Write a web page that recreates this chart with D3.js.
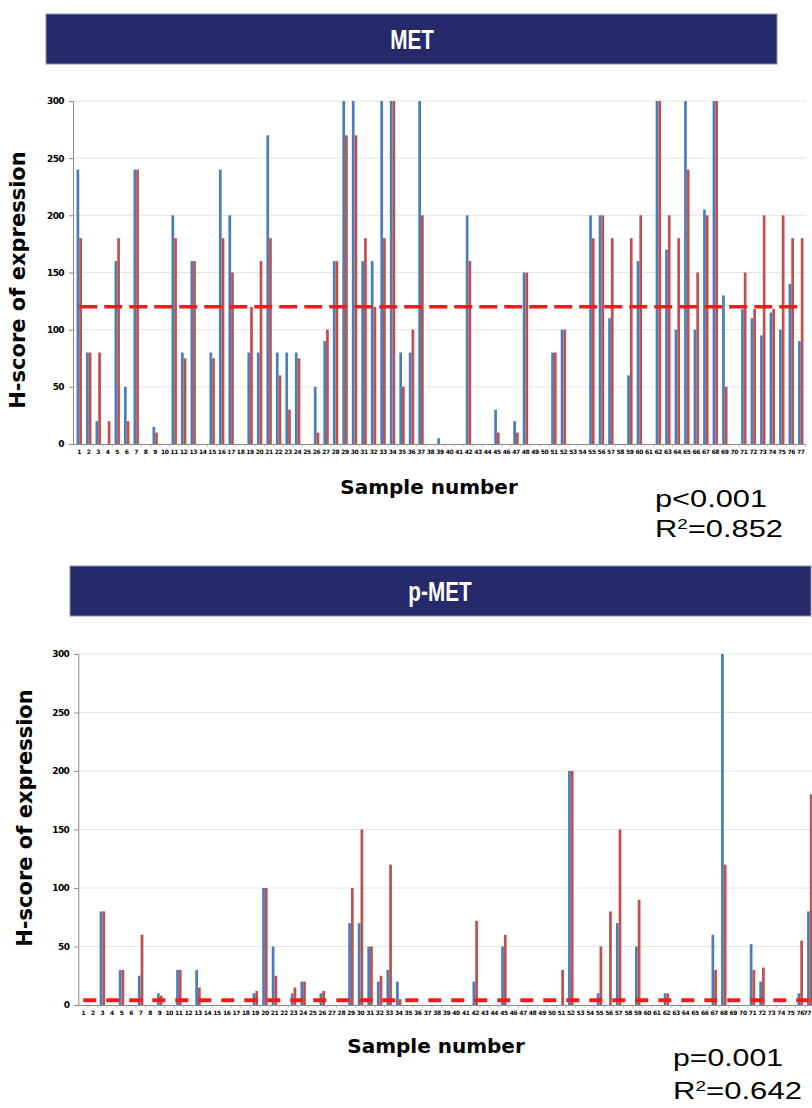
<!DOCTYPE html>
<html><head><meta charset="utf-8">
<script src="https://cdn.jsdelivr.net/npm/d3@7"></script>
<style>body{margin:0;background:#fff}svg{display:block}</style>
</head><body><svg id="c" width="812" height="1108"></svg>
<script>
// ---------- DATA ----------
const samples = ["1","2","3","4","5","6","7","8","9","10","11","12","13","14","15","16","17","18","19","20",
"21","22","23","24","25","26","27","28","29","30","31","32","33","34","35","36","37","38","39","40",
"41","42","43","44","45","46","47","48","49","50","51","52","53","54","55","56","57","58","59","60",
"61","62","63","64","65","66","67","68","69","70","71","72","73","74","75","76","77"];
const yTicks = [0, 50, 100, 150, 200, 250, 300];

// MET H-scores (blue and red series per sample)
const metBlue = [240,80,20,0,160,50,240,0,15,0, 200,80,160,0,80,240,200,0,80,80,
  270,80,80,80,0,50,90,160,300,300, 160,160,300,300,80,80,300,0,5,0,
  0,200,0,0,30,0,20,150,0,0, 80,100,0,0,200,200,110,0,60,160,
  0,300,170,100,300,100,205,300,130,0, 118,110,95,115,100,140,90];
const metRed = [180,80,80,20,180,20,240,0,10,0, 180,75,160,0,75,180,150,0,120,160,
  180,60,30,75,0,10,100,160,270,270, 180,120,180,300,50,100,200,0,0,0,
  0,160,0,0,10,0,10,150,0,0, 80,100,0,0,180,200,180,0,180,200,
  0,300,200,180,240,150,200,300,50,0, 150,118,200,118,200,180,180];
const metCutoff = 120;

// p-MET H-scores
const pmetBlue = [0,0,80,0,30,0,25,0,10,0, 30,0,30,0,0,0,0,0,10,100,
  50,0,10,20,0,10,0,0,70,70, 50,20,30,20,0,0,0,0,0,0,
  0,20,0,0,50,0,0,0,0,0, 0,200,0,0,10,0,70,0,50,0,
  0,10,0,0,0,0,60,300,0,0, 52,20,0,0,0,10,80];
const pmetRed = [0,0,80,0,30,0,60,0,8,0, 30,0,15,0,0,0,0,0,12,100,
  25,0,15,20,0,12,0,0,100,150, 50,25,120,5,0,0,0,0,0,0,
  0,72,0,0,60,0,0,0,0,0, 30,200,0,0,50,80,150,0,90,0,
  0,10,0,0,0,0,30,120,0,0, 30,32,0,0,0,55,180];
const pmetCutoff = 4;

const blueColor = "#4a7ebb", redColor = "#c0504d", lineColor = "#ee1c1c", navy = "#262a6a";

const svg = d3.select("#c");

function header(x0, x1, y0, y1, label, cx) {
  svg.append("rect").attr("x", x0).attr("y", y0).attr("width", x1 - x0).attr("height", y1 - y0)
    .attr("fill", navy).attr("stroke", "#8c8fb8").attr("stroke-width", 1);
  svg.append("text").attr("transform", `translate(${cx},${(y0 + y1) / 2 + 10}) scale(0.74,1)`)
    .attr("text-anchor", "middle").attr("fill", "#fff")
    .style("font", "bold 28px 'Liberation Sans', Arial, sans-serif").text(label);
}

function chart(o) {
  const g = svg.append("g");
  const x = d3.scaleBand().domain(samples).range(o.xr);
  const y = d3.scaleLinear().domain([0, 300]).range(o.yr);
  const sub = d3.scaleBand().domain(["b", "r"]).range([0, x.bandwidth()]).paddingOuter(0.75).paddingInner(0);

  // gridlines
  g.selectAll(".grid").data(yTicks.slice(1)).join("line")
    .attr("x1", o.axisX).attr("x2", o.gridRight).attr("y1", d => y(d)).attr("y2", d => y(d))
    .attr("stroke", "#e4e4e4").attr("stroke-width", 1);

  // bars
  const rows = samples.map((s, i) => ({ s, b: o.blue[i], r: o.red[i] }));
  g.selectAll(".bb").data(rows).join("rect")
    .attr("x", d => x(d.s) + sub("b")).attr("width", sub.bandwidth())
    .attr("y", d => y(d.b)).attr("height", d => y(0) - y(d.b)).attr("fill", blueColor);
  g.selectAll(".br").data(rows).join("rect")
    .attr("x", d => x(d.s) + sub("r")).attr("width", sub.bandwidth())
    .attr("y", d => y(d.r)).attr("height", d => y(0) - y(d.r)).attr("fill", redColor);

  // cutoff dashed line
  g.append("line")
    .attr("x1", x(samples[0]) + x.bandwidth() / 2).attr("x2", x(samples[samples.length - 1]) + x.bandwidth() / 2)
    .attr("y1", y(o.cutoff)).attr("y2", y(o.cutoff))
    .attr("stroke", lineColor).attr("stroke-width", o.dashW).attr("stroke-dasharray", o.dash);

  // y axis
  const ya = g.append("g").attr("transform", `translate(${o.axisX},0)`)
    .call(d3.axisLeft(y).tickValues(yTicks).tickSize(4).tickPadding(5));
  ya.select(".domain").attr("stroke", "#8a8a8a");
  ya.selectAll(".tick line").attr("stroke", "#8a8a8a");
  ya.selectAll("text").style("font", "900 9px 'DejaVu Sans', sans-serif").attr("fill", "#000")
    .attr("letter-spacing", "-0.6");

  // x axis
  const xa = g.append("g").attr("transform", `translate(0,${y(0)})`)
    .call(d3.axisBottom(x).tickSize(0).tickPadding(6));
  xa.select(".domain").attr("stroke", "#8a8a8a").attr("d", `M${o.axisX},0.5H${o.gridRight}`);
  xa.selectAll("text").style("font", "bold 6px 'DejaVu Sans', sans-serif").attr("fill", "#000")
    .attr("letter-spacing", "-0.4");
  // keep the last label inside the picture
  xa.selectAll(".tick").filter(d => d === samples[samples.length - 1]).select("text")
    .attr("dx", o.lastDx);
  // category boundary tick marks
  g.selectAll(".xt").data(samples).join("line")
    .attr("x1", d => x(d) + x.bandwidth()).attr("x2", d => x(d) + x.bandwidth())
    .attr("y1", y(0)).attr("y2", y(0) + 3).attr("stroke", "#9a9a9a").attr("stroke-width", 0.6);

  // axis titles
  svg.append("text").attr("transform", `translate(${o.yt[0]},${o.yt[1]}) rotate(-90)`)
    .attr("text-anchor", "middle").attr("fill", "#000")
    .style("font", "bold 21px 'DejaVu Sans', sans-serif").text("H-score of expression");
  svg.append("text").attr("x", o.xt[0]).attr("y", o.xt[1]).attr("text-anchor", "middle").attr("fill", "#000")
    .style("font", "bold 20px 'DejaVu Sans', sans-serif").text("Sample number");

  // stats
  const st = svg.append("g").style("font", "23px 'Liberation Sans', Arial, sans-serif").attr("fill", "#000");
  st.append("text").attr("x", o.st[0]).attr("y", o.st[1]).attr("textLength", o.stw[0])
    .attr("lengthAdjust", "spacingAndGlyphs").text(o.pText);
  const r = st.append("text").attr("x", o.st[0]).attr("y", o.st[2]).attr("textLength", o.stw[1])
    .attr("lengthAdjust", "spacingAndGlyphs");
  r.append("tspan").text("R");
  r.append("tspan").attr("dy", -8).style("font-size", "14px").text("2");
  r.append("tspan").attr("dy", 8).text("=" + o.rText);
}

header(46, 777, 14, 64, "MET", 412);
chart({
  xr: [74.5, 805.5], yr: [444, 101], axisX: 73, gridRight: 806, lastDx: 0,
  blue: metBlue, red: metRed, cutoff: metCutoff, dash: "18,7", dashW: 3.5,
  yt: [25, 280], xt: [429, 494],
  st: [655, 507, 537], stw: [112, 128], pText: "p<0.001", rText: "0.852"
});

header(70, 811, 566, 616, "p-MET", 440);
chart({
  xr: [78.5, 814.6], yr: [1005, 654], axisX: 78.3, gridRight: 815, lastDx: -2.5,
  blue: pmetBlue, red: pmetRed, cutoff: pmetCutoff, dash: "13,10", dashW: 4,
  yt: [32, 818], xt: [436, 1053],
  st: [673, 1066, 1099], stw: [110, 129], pText: "p=0.001", rText: "0.642"
});
</script></body></html>
